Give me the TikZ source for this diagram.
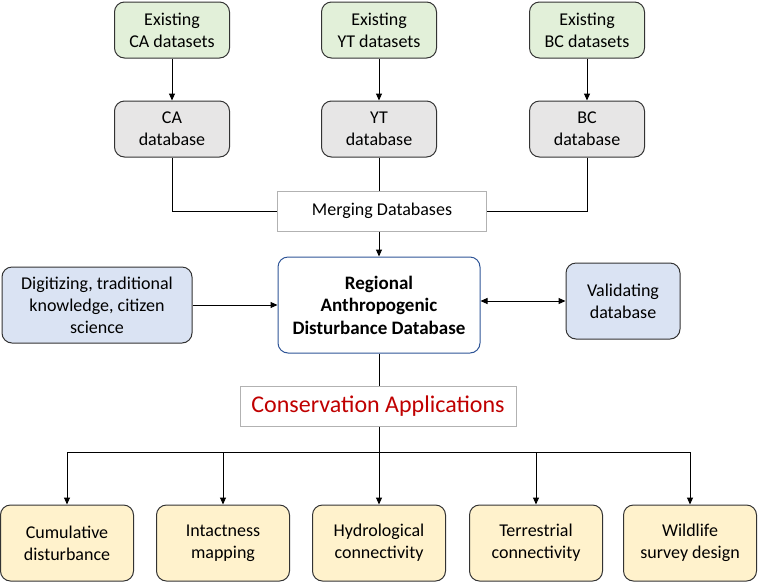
\documentclass[tikz,border=0pt]{standalone}
\usepackage{fontspec}
\setmainfont{Carlito}
\usetikzlibrary{arrows.meta}
\definecolor{pale-green}{HTML}{E2F0D9}
\definecolor{pale-gray}{HTML}{E7E6E6}
\definecolor{pale-blue}{HTML}{DAE3F3}
\definecolor{pale-yellow}{HTML}{FFF2CC}
\definecolor{dark-blue}{HTML}{2F5597}
\definecolor{dark-red}{HTML}{C00000}

\begin{document}
\begin{tikzpicture}[x=1pt, y=-1pt, line width=1pt,
    box/.style={draw=black!80, rounded corners=10pt, align=center,
      minimum width=115pt, minimum height=56pt, inner sep=2pt,
      font=\fontsize{18}{22}\selectfont},
    label box/.style={draw=black!30, fill=white, inner sep=0pt,
      minimum height=40pt},
    arr/.style={-{Triangle[length=7pt,width=6pt]}}]
        \useasboundingbox (0,0) rectangle (759,582);

        % sources
        \node[box, fill=pale-green] (ca-src) at (172,30) {Existing\\CA datasets};
        \node[box, fill=pale-green] (yt-src) at (379,30) {Existing\\YT datasets};
        \node[box, fill=pale-green] (bc-src) at (587,30) {Existing\\BC datasets};
        \node[box, fill=pale-gray] (ca-db) at (172,129) {CA\\database};
        \node[box, fill=pale-gray] (yt-db) at (379,129) {YT\\database};
        \node[box, fill=pale-gray] (bc-db) at (587,129) {BC\\database};

        \node[label box, minimum width=209pt, font=\fontsize{18}{22}\selectfont] (merge) at (382,211) {Merging Databases};

        \node[box, draw=dark-blue, fill=white, minimum width=202pt, minimum height=96pt,
          font=\fontsize{19}{22.5}\selectfont\bfseries] (main) at (379,305)
          {Regional\\Anthropogenic\\Disturbance Database};
        \node[box, fill=pale-blue, minimum width=190pt, minimum height=76pt] (digit) at (97,305)
          {Digitizing, traditional\\knowledge, citizen\\science};
        \node[box, fill=pale-blue, minimum width=114pt, minimum height=76pt] (valid) at (623,301)
          {Validating\\database};

        \node[label box, minimum width=276pt, text=dark-red, font=\fontsize{24}{28}\selectfont] (cons) at (378,406)
          {Conservation Applications};

        % applications
        \node[box, fill=pale-yellow, minimum width=133pt, minimum height=76pt] (cum) at (67,543) {Cumulative\\disturbance};
        \node[box, fill=pale-yellow, minimum width=133pt, minimum height=76pt] (intact) at (223,543) {Intactness\\mapping};
        \node[box, fill=pale-yellow, minimum width=133pt, minimum height=76pt] (hydro) at (379,543) {Hydrological\\connectivity};
        \node[box, fill=pale-yellow, minimum width=133pt, minimum height=76pt] (terr) at (536,543) {Terrestrial\\connectivity};
        \node[box, fill=pale-yellow, minimum width=133pt, minimum height=76pt] (wild) at (690,543) {Wildlife\\survey design};

        \coordinate (split) at (379,452);

        \draw[arr] (ca-src) -- (ca-db);
        \draw[arr] (yt-src) -- (yt-db);
        \draw[arr] (bc-src) -- (bc-db);
        \draw (ca-db) |- (merge);
        \draw (bc-db) |- (merge);
        \draw (yt-db) -- (yt-db |- merge.north);
        \draw[arr] (main.north |- merge.south) -- (main);
        \draw[arr] (digit) -- (main);
        \draw[{Triangle[length=7pt,width=6pt]}-{Triangle[length=7pt,width=6pt]}] (main.east |- valid) -- (valid);
        \draw (main) -- (main |- cons.north);
        \draw (main |- cons.south) -- (split);
        \draw (cum |- split) -- (wild |- split);
        \draw[arr] (cum |- split) -- (cum);
        \draw[arr] (intact |- split) -- (intact);
        \draw[arr] (split) -- (hydro);
        \draw[arr] (terr |- split) -- (terr);
        \draw[arr] (wild |- split) -- (wild);
\end{tikzpicture}
\end{document}
